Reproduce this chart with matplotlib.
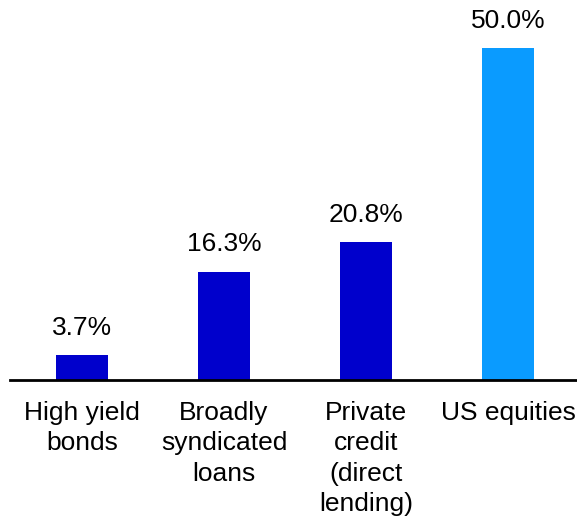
import matplotlib
matplotlib.use("Agg")
import matplotlib.pyplot as plt

categories = ["High yield\nbonds", "Broadly\nsyndicated\nloans", "Private\ncredit\n(direct\nlending)", "US equities"]
values = [3.7, 16.3, 20.8, 50.0]
labels = ["3.7%", "16.3%", "20.8%", "50.0%"]
colors = ["#0000CC", "#0000CC", "#0000CC", "#0A9BFF"]

plt.rcParams['font.family'] = ['Liberation Sans', 'DejaVu Sans']

fig = plt.figure(figsize=(5.77, 5.18), dpi=100)
ax = fig.add_axes([10/577, 138/518, 567/577, 380/518])
x = list(range(len(values)))
ax.bar(x, values, width=0.373, color=colors, zorder=2)
for xi, v, lab in zip(x, values, labels):
    ax.text(xi, v + 2.3, lab, ha='center', va='bottom', fontsize=19, color='black')
ax.set_xlim(-0.507, 3.486)
ax.set_ylim(0, 57.2)
for s in ['top', 'right', 'left']:
    ax.spines[s].set_visible(False)
ax.spines['bottom'].set_linewidth(2)
ax.spines['bottom'].set_color('black')
ax.set_yticks([])
ax.set_xticks(x)
ax.set_xticklabels(categories, fontsize=19, linespacing=1.34, va='top')
ax.tick_params(axis='x', length=0, pad=15)
fig.savefig("out.png", dpi=100)
